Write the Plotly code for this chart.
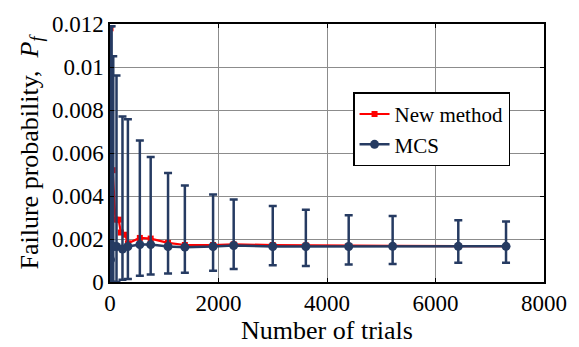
import plotly.graph_objects as go

# MCS data
mcs_x = [10, 30, 60, 120, 230, 330, 550, 750, 1070, 1380, 1900, 2280, 3000, 3610, 4400, 5210, 6420, 7300]
mcs_pf = [0.00104, 0.00165, 0.00165, 0.00165, 0.00153, 0.00165, 0.00174, 0.00174, 0.00165, 0.00162,
          0.00165, 0.00170, 0.00165, 0.00165, 0.00165, 0.00166, 0.00166, 0.00166]
mcs_upper = [0.0119, 0.0119, 0.0105, 0.0096, 0.0077, 0.00757, 0.00658, 0.00581, 0.00507, 0.00449,
             0.00407, 0.00384, 0.00354, 0.00336, 0.0031, 0.00307, 0.00287, 0.00281]
mcs_lower = [0.0, 0.0, 0.0, 0.0, 0.0001, 0.00014, 0.00029, 0.00035, 0.00039, 0.00043,
             0.00052, 0.00061, 0.00078, 0.00075, 0.00081, 0.00084, 0.0009, 0.0009]

# New method data
new_x = [0, 10, 50, 100, 160, 200, 280, 330, 550, 750, 1070, 1380, 1900, 2280, 3000, 3610, 4400, 5210, 6420, 7300]
new_pf = [0.0, 0.0118, 0.0052, 0.0029, 0.0029, 0.0023, 0.0022, 0.0018, 0.00205, 0.00202, 0.00182,
          0.00172, 0.00172, 0.00175, 0.00172, 0.0017, 0.00168, 0.00168, 0.00167, 0.00167]

x_ticks = [0, 2000, 4000, 6000, 8000]
y_ticks = [0, 0.002, 0.004, 0.006, 0.008, 0.01, 0.012]
y_tick_text = ["0", "0.002", "0.004", "0.006", "0.008", "0.01", "0.012"]

navy = "#263b62"
red = "#ff0000"
font_family = "Times New Roman"
tick_font = dict(family=font_family, size=23, color="black")

err_plus = [u - p for u, p in zip(mcs_upper, mcs_pf)]
err_minus = [p - l for p, l in zip(mcs_pf, mcs_lower)]

fig = go.Figure()
fig.add_trace(go.Scatter(
    x=new_x, y=new_pf, mode="lines+markers", name="New method",
    line=dict(color=red, width=2.2),
    marker=dict(symbol="square", size=6, color=red),
))
fig.add_trace(go.Scatter(
    x=mcs_x, y=mcs_pf, mode="lines+markers", name="MCS",
    line=dict(color=navy, width=2.5),
    marker=dict(symbol="circle", size=9, color=navy),
    error_y=dict(type="data", symmetric=False, array=err_plus, arrayminus=err_minus,
                 color=navy, thickness=2.5, width=4),
))

fig.update_layout(
    width=579, height=347,
    margin=dict(l=110, r=33, t=17, b=53),
    plot_bgcolor="white", paper_bgcolor="white",
    font=dict(family=font_family, size=23, color="black"),
    xaxis=dict(
        range=[0, 8000], tickmode="array", tickvals=x_ticks, ticktext=[str(v) for v in x_ticks],
        tickfont=tick_font,
        showline=True, linecolor="black", linewidth=1.5, mirror="ticks",
        ticks="inside", ticklen=4, tickcolor="black",
        showgrid=True, gridcolor="#8c8c8c", gridwidth=1, zeroline=False,
        title=dict(text="Number of trials", font=dict(family=font_family, size=26, color="black"), standoff=0),
    ),
    yaxis=dict(
        range=[0, 0.012], tickmode="array", tickvals=y_ticks, ticktext=y_tick_text,
        tickfont=tick_font,
        showline=True, linecolor="black", linewidth=1.5, mirror="ticks",
        ticks="inside", ticklen=4, tickcolor="black",
        showgrid=True, gridcolor="#8c8c8c", gridwidth=1, zeroline=False,
        title=dict(text="Failure probability,  <i>P</i><sub><i>f</i></sub>",
                   font=dict(family=font_family, size=26, color="black"), standoff=6),
    ),
    legend=dict(
        x=0.56, y=0.735, xanchor="left", yanchor="top",
        bgcolor="white", bordercolor="black", borderwidth=1.5,
        font=dict(family=font_family, size=21, color="black"),
        itemwidth=30, tracegroupgap=0,
    ),
    showlegend=True,
)

fig.write_html("out.html")
